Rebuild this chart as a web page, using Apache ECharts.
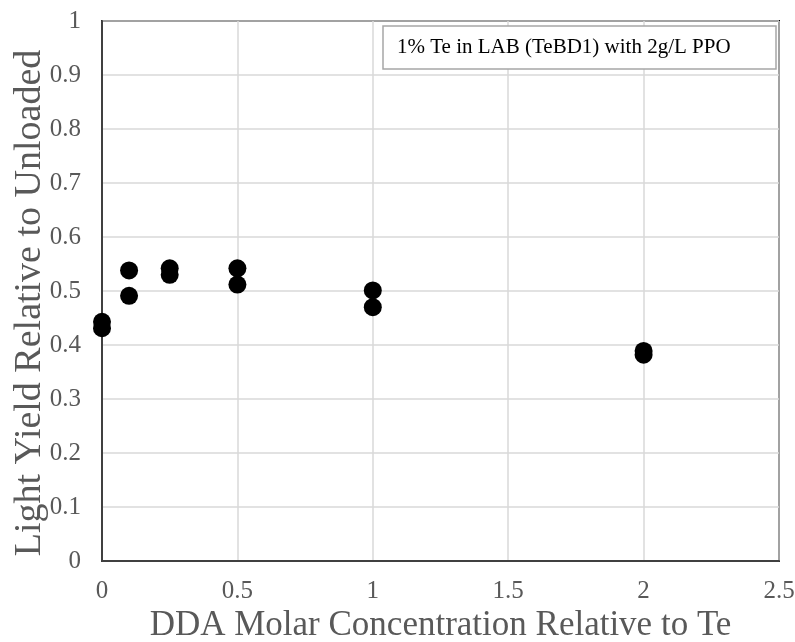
<!DOCTYPE html>
<html>
<head>
<meta charset="utf-8">
<script src="https://cdn.jsdelivr.net/npm/echarts@6/dist/echarts.min.js"></script>
<style>
html,body{margin:0;padding:0;background:#fff;}
#chart{width:795px;height:642px;}
</style>
</head>
<body>
<div id="chart"></div>
<script>
const xValues = [0, 0, 0.1, 0.1, 0.25, 0.25, 0.5, 0.5, 1, 1, 2, 2];
const yValues = [0.443, 0.431, 0.538, 0.491, 0.542, 0.530, 0.542, 0.512, 0.501, 0.470, 0.389, 0.382];
const boxLabel = '1% Te in LAB (TeBD1) with 2g/L PPO';
const xTitle = 'DDA Molar Concentration Relative to Te';
const yTitle = 'Light Yield Relative to Unloaded';

const points = xValues.map((x, i) => [x, yValues[i]]);
const font = '"Liberation Serif", "Times New Roman", serif';

const chart = echarts.init(document.getElementById('chart'));
chart.setOption({
  animation: false,
  backgroundColor: '#fff',
  title: {
    text: boxLabel,
    left: 383,
    top: 26,
    padding: [11, 46, 11, 14],
    borderColor: '#a6a6a6',
    borderWidth: 1.5,
    backgroundColor: '#fff',
    textStyle: { fontFamily: font, fontSize: 21, fontWeight: 'normal', color: '#000' }
  },
  grid: {
    left: 102, top: 21, right: 16, bottom: 81,
    containLabel: false,
    outerBoundsMode: 'none',
    show: true, borderColor: '#000', borderWidth: 2
  },
  xAxis: {
    type: 'value', min: 0, max: 2.5, interval: 0.5,
    name: xTitle, nameLocation: 'middle', nameGap: 47,
    nameMoveOverlap: false,
    nameTextStyle: { fontFamily: font, fontSize: 35, color: '#595959', verticalAlign: 'top' },
    axisLine: { show: true, lineStyle: { color: '#404040', width: 2 } },
    axisTick: { show: false },
    axisLabel: { fontFamily: font, fontSize: 25, color: '#595959', margin: 18 },
    splitLine: { show: true, lineStyle: { color: '#d9d9d9', width: 1.5 } }
  },
  yAxis: {
    type: 'value', min: 0, max: 1, interval: 0.1,
    name: yTitle, nameLocation: 'middle', nameGap: 53,
    nameMoveOverlap: false,
    nameTextStyle: { fontFamily: font, fontSize: 38, color: '#595959', padding: [0, 24, 0, 0] },
    axisLine: { show: true, lineStyle: { color: '#404040', width: 2 } },
    axisTick: { show: false },
    axisLabel: { fontFamily: font, fontSize: 25, color: '#595959', margin: 21 },
    splitLine: { show: true, lineStyle: { color: '#d9d9d9', width: 1.5 } }
  },
  series: [{
    type: 'scatter',
    data: points,
    symbol: 'circle',
    symbolSize: 18,
    itemStyle: { color: '#000', opacity: 1 },
    clip: false
  }]
});
</script>
</body>
</html>
